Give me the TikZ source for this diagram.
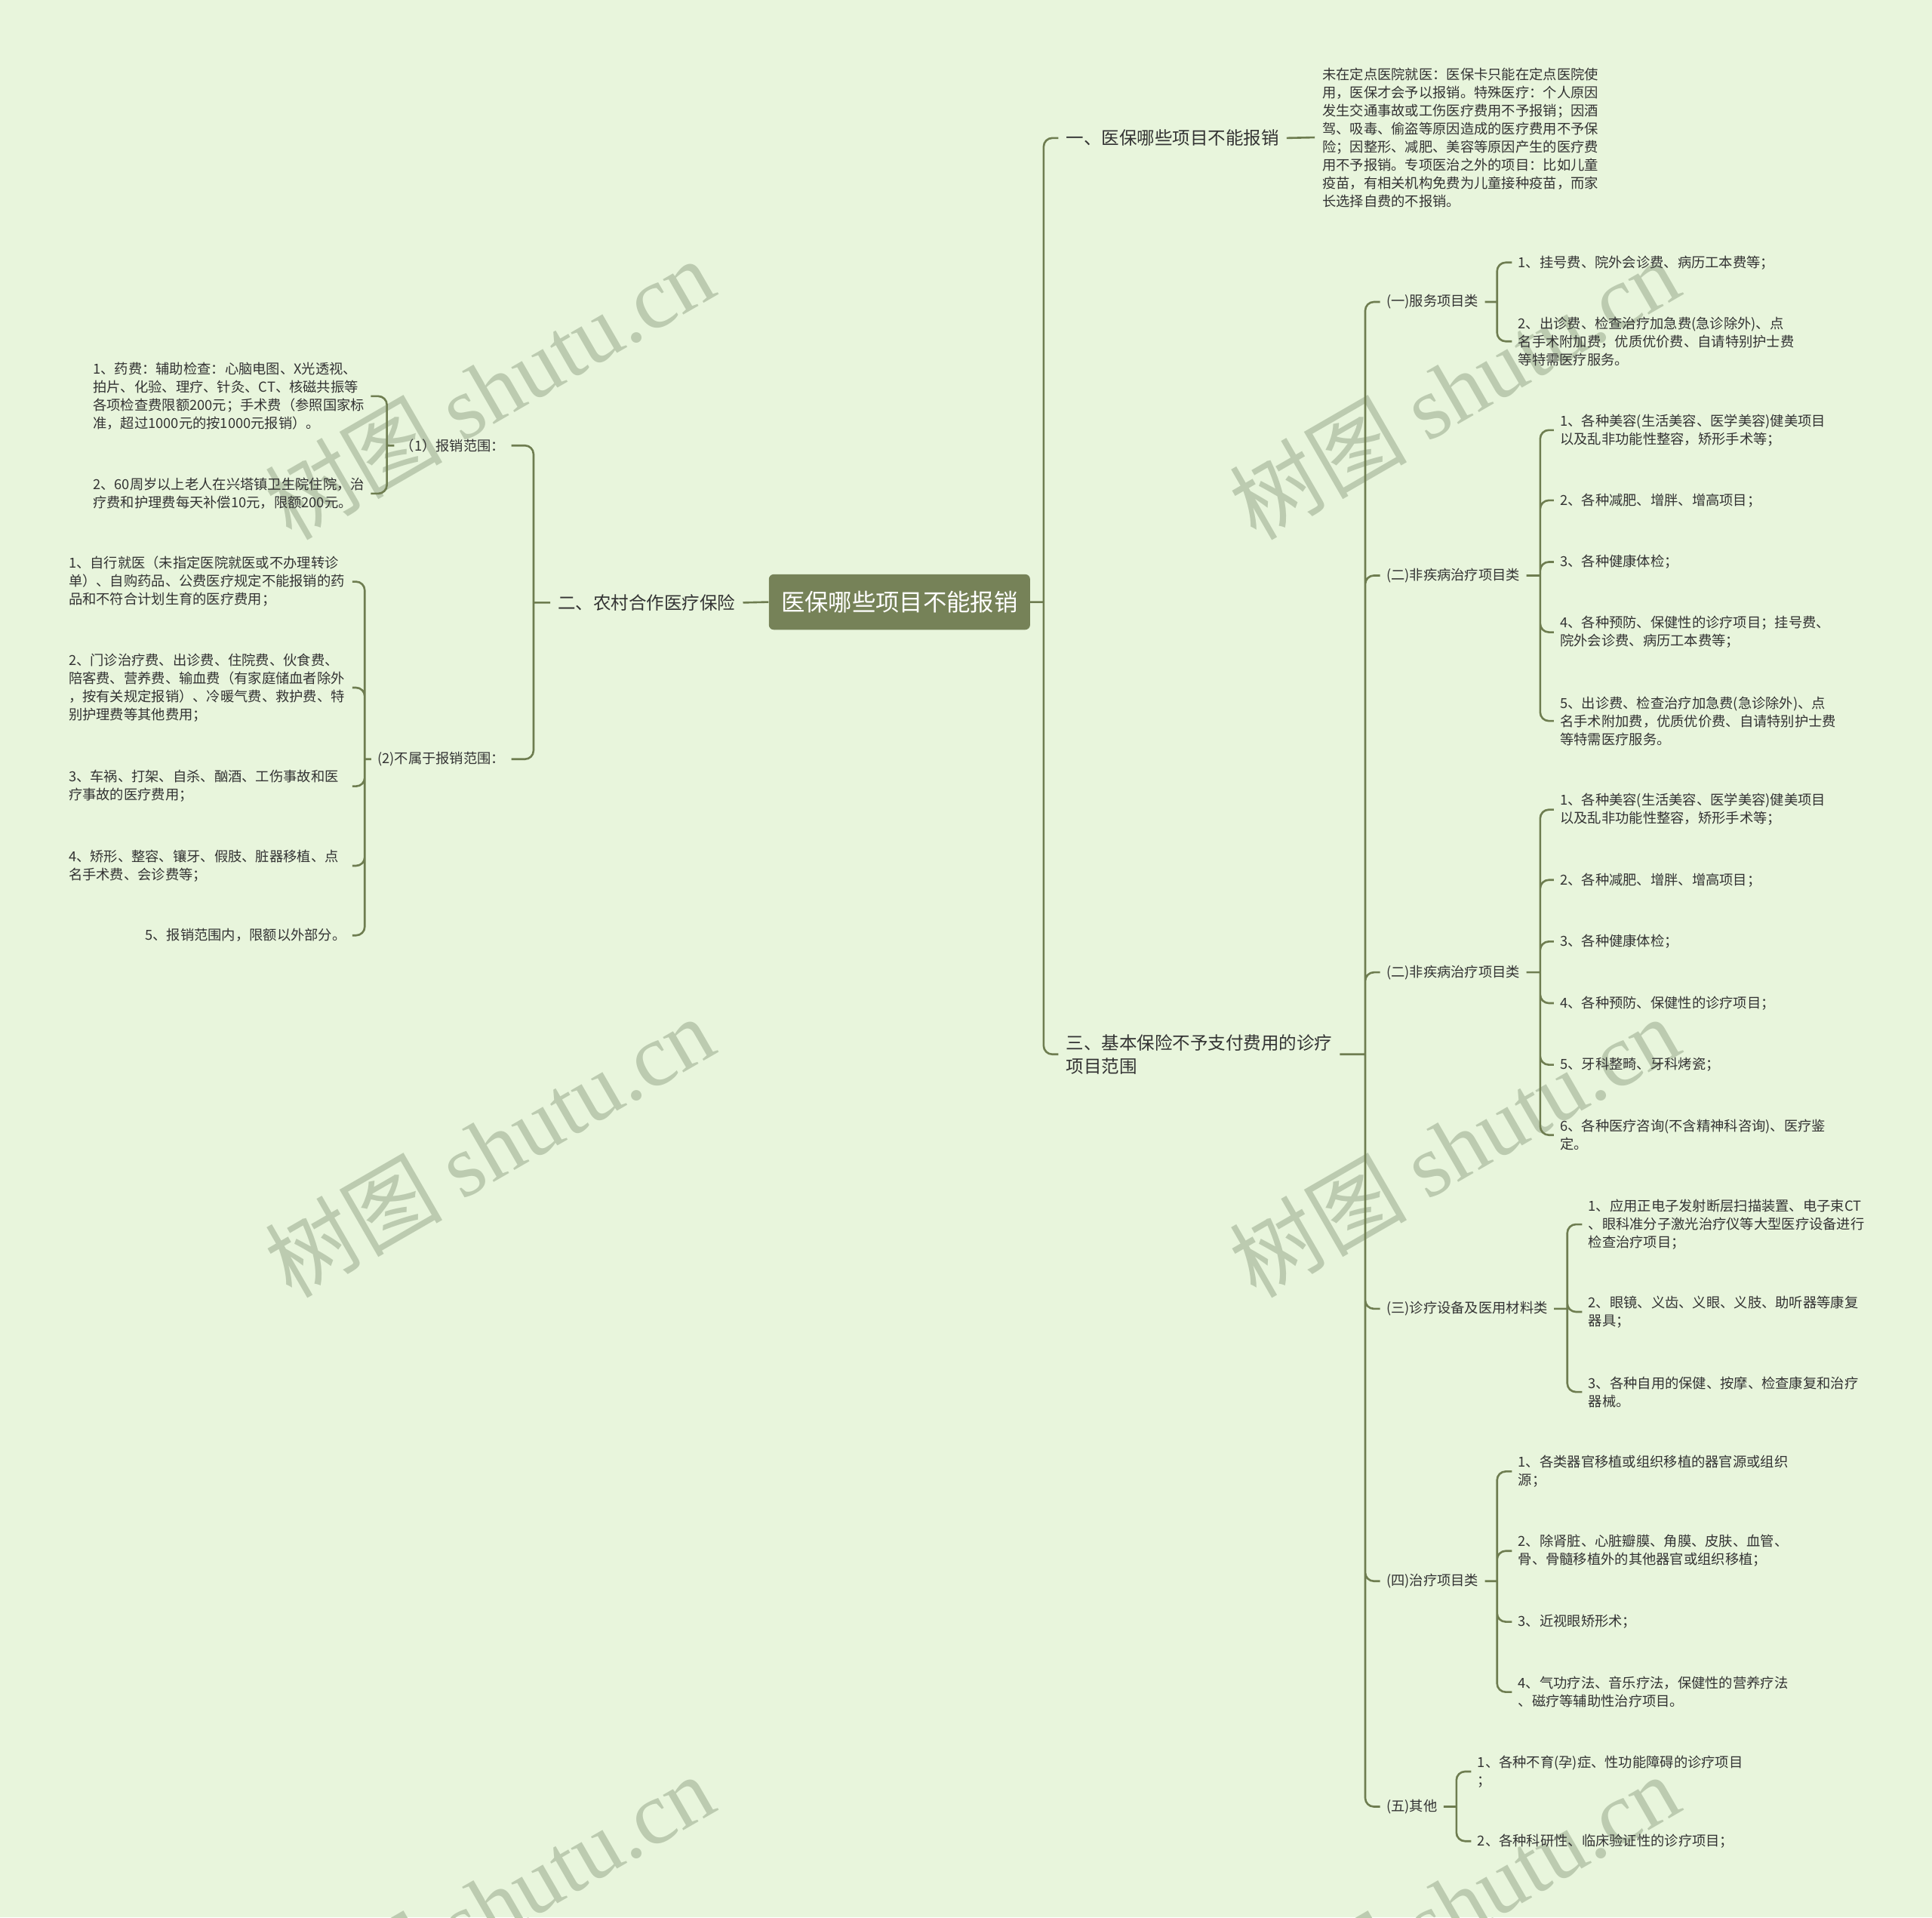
\documentclass[tikz,border=0pt]{standalone}
\usepackage{fontspec}
\setmainfont{Noto Sans CJK SC}
\newfontfamily\markserif{Liberation Serif}
\usepackage{tikz}
\usetikzlibrary{positioning}
\definecolor{mapbg}{HTML}{E8F5DC}
\definecolor{mapline}{HTML}{6E7D50}
\definecolor{maproot}{HTML}{768258}
\definecolor{mapink}{HTML}{333333}
\definecolor{mapmark}{HTML}{BCCBB0}
\newcommand\rootsize{\fontsize{19.2}{24}\selectfont}
\newcommand\branchsize{\fontsize{14.4}{19}\selectfont}
\newcommand\leafsize{\fontsize{11.2}{14.7}\selectfont}
\newcommand\marksize{\fontsize{72}{72}\selectfont}

\begin{document}
\begin{tikzpicture}[x=1pt,y=-1pt,
  root/.style={fill=maproot,text=white,rounded corners=4pt,minimum height=45pt,inner xsep=10pt,font=\rootsize},
  branch/.style={text=mapink,inner sep=6pt,align=left,font=\branchsize},
  leaf/.style={text=mapink,inner sep=5pt,align=left,font=\leafsize},
  wideleaf/.style={leaf,text width=225pt},
  link/.style={draw=mapline,line width=1.6pt,rounded corners=7pt},
  wmark/.style={text=mapmark,rotate=30,font=\marksize}
]
\useasboundingbox (0,0) rectangle (1568,1556);
\fill[mapbg] (0,0) rectangle (1568,1556);

% watermark
\node[wmark] (wm1) at (397,315) {树图 {\markserif shutu.cn}};
\node[wmark] (wm2) at (1180,315) {树图 {\markserif shutu.cn}};
\node[wmark] (wm3) at (397,930) {树图 {\markserif shutu.cn}};
\node[wmark] (wm4) at (1180,930) {树图 {\markserif shutu.cn}};
\node[wmark] (wm5) at (397,1545) {树图 {\markserif shutu.cn}};
\node[wmark] (wm6) at (1180,1545) {树图 {\markserif shutu.cn}};

% centre and first level
\node[root] (root) at (730,488.5) {医保哪些项目不能报销};
\node[branch,anchor=west] (b1) at (859,112) {一、医保哪些项目不能报销};
\node[branch,anchor=east] (b2) at (603,489) {二、农村合作医疗保险};
\node[branch,anchor=west] (b3) at (859,855.5) {三、基本保险不予支付费用的诊疗\\项目范围};
\node[leaf,anchor=west,inner sep=6pt] (d1) at (1067,111.5) {未在定点医院就医：医保卡只能在定点医院使\\用，医保才会予以报销。特殊医疗：个人原因\\发生交通事故或工伤医疗费用不予报销；因酒\\驾、吸毒、偷盗等原因造成的医疗费用不予保\\险；因整形、减肥、美容等原因产生的医疗费\\用不予报销。专项医治之外的项目：比如儿童\\疫苗，有相关机构免费为儿童接种疫苗，而家\\长选择自费的不报销。};

% left side
\node[leaf,anchor=east] (s21) at (415,361.5) {（1）报销范围：};
\node[leaf,anchor=east] (s22) at (415,616) {(2)不属于报销范围：};
\node[leaf,anchor=east] (l211) at (301,321.5) {1、药费：辅助检查：心脑电图、X光透视、\\拍片、化验、理疗、针灸、CT、核磁共振等\\各项检查费限额200元；手术费（参照国家标\\准，超过1000元的按1000元报销）。};
\node[leaf,anchor=east] (l212) at (301,400.5) {2、60周岁以上老人在兴塔镇卫生院住院，治\\疗费和护理费每天补偿10元，限额200元。};
\node[wideleaf,anchor=east] (l221) at (286,472) {1、自行就医（未指定医院就医或不办理转诊\\单）、自购药品、公费医疗规定不能报销的药\\品和不符合计划生育的医疗费用；};
\node[wideleaf,anchor=east] (l222) at (286,558) {2、门诊治疗费、出诊费、住院费、伙食费、\\陪客费、营养费、输血费（有家庭储血者除外\\，按有关规定报销）、冷暖气费、救护费、特\\别护理费等其他费用；};
\node[wideleaf,anchor=east] (l223) at (286,638) {3、车祸、打架、自杀、酗酒、工伤事故和医\\疗事故的医疗费用；};
\node[wideleaf,anchor=east] (l224) at (286,702.5) {4、矫形、整容、镶牙、假肢、脏器移植、点\\名手术费、会诊费等；};
\node[leaf,anchor=east] (l225) at (286,759) {5、报销范围内，限额以外部分。};

% right side, second level
\node[leaf,anchor=west] (s31) at (1120,245) {(一)服务项目类};
\node[leaf,anchor=west] (s32) at (1120,467) {(二)非疾病治疗项目类};
\node[leaf,anchor=west] (s33) at (1120,789) {(二)非疾病治疗项目类};
\node[leaf,anchor=west] (s34) at (1120,1062) {(三)诊疗设备及医用材料类};
\node[leaf,anchor=west] (s35) at (1120,1283) {(四)治疗项目类};
\node[leaf,anchor=west] (s36) at (1120,1466) {(五)其他};

% right side, leaves
\node[leaf,anchor=west] (l311) at (1227,213) {1、挂号费、院外会诊费、病历工本费等；};
\node[leaf,anchor=west] (l312) at (1227,277) {2、出诊费、检查治疗加急费(急诊除外)、点\\名手术附加费，优质优价费、自请特别护士费\\等特需医疗服务。};

\node[leaf,anchor=west] (l321) at (1261,349) {1、各种美容(生活美容、医学美容)健美项目\\以及乱非功能性整容，矫形手术等；};
\node[leaf,anchor=west] (l322) at (1261,406) {2、各种减肥、增胖、增高项目；};
\node[leaf,anchor=west] (l323) at (1261,456) {3、各种健康体检；};
\node[leaf,anchor=west] (l324) at (1261,513) {4、各种预防、保健性的诊疗项目；挂号费、\\院外会诊费、病历工本费等；};
\node[leaf,anchor=west] (l325) at (1261,585) {5、出诊费、检查治疗加急费(急诊除外)、点\\名手术附加费，优质优价费、自请特别护士费\\等特需医疗服务。};

\node[leaf,anchor=west] (l331) at (1261,657) {1、各种美容(生活美容、医学美容)健美项目\\以及乱非功能性整容，矫形手术等；};
\node[leaf,anchor=west] (l332) at (1261,714) {2、各种减肥、增胖、增高项目；};
\node[leaf,anchor=west] (l333) at (1261,764) {3、各种健康体检；};
\node[leaf,anchor=west] (l334) at (1261,814) {4、各种预防、保健性的诊疗项目；};
\node[leaf,anchor=west] (l335) at (1261,864) {5、牙科整畸、牙科烤瓷；};
\node[leaf,anchor=west] (l336) at (1261,921) {6、各种医疗咨询(不含精神科咨询)、医疗鉴\\定。};

\node[leaf,anchor=west] (l341) at (1284,993.5) {1、应用正电子发射断层扫描装置、电子束CT\\、眼科准分子激光治疗仪等大型医疗设备进行\\检查治疗项目；};
\node[leaf,anchor=west] (l342) at (1284,1064.5) {2、眼镜、义齿、义眼、义肢、助听器等康复\\器具；};
\node[leaf,anchor=west] (l343) at (1284,1129.5) {3、各种自用的保健、按摩、检查康复和治疗\\器械。};

\node[leaf,anchor=west] (l351) at (1227,1194) {1、各类器官移植或组织移植的器官源或组织\\源；};
\node[leaf,anchor=west] (l352) at (1227,1258.5) {2、除肾脏、心脏瓣膜、角膜、皮肤、血管、\\骨、骨髓移植外的其他器官或组织移植；};
\node[leaf,anchor=west] (l353) at (1227,1316) {3、近视眼矫形术；};
\node[leaf,anchor=west] (l354) at (1227,1373) {4、气功疗法、音乐疗法，保健性的营养疗法\\、磁疗等辅助性治疗项目。};

\node[leaf,anchor=west] (l361) at (1194,1437.5) {1、各种不育(孕)症、性功能障碍的诊疗项目\\；};
\node[leaf,anchor=west] (l362) at (1194,1494) {2、各种科研性、临床验证性的诊疗项目；};

% bracket points
\coordinate (kr) at (847,488.5);
\coordinate (k2) at (433,489);
\coordinate (k21) at (314,361.5);
\coordinate (k22) at (296,616);
\coordinate (k3) at (1108,855.5);
\coordinate (k31) at (1215,245);
\coordinate (k32) at (1250,467);
\coordinate (k33) at (1250,789);
\coordinate (k34) at (1272,1062);
\coordinate (k35) at (1215,1283);
\coordinate (k36) at (1182,1466);

% connectors
\draw[link] (root.east) -- (kr) (kr) |- (b1.west) (kr) |- (b3.west);
\draw[link] (root.west) -- (b2.east);
\draw[link] (b1.east) -- (d1.west);
\draw[link] (b2.west) -- (k2) (k2) |- (s21.east) (k2) |- (s22.east);
\draw[link] (s21.west) -- (k21) (k21) |- (l211.east) (k21) |- (l212.east);
\draw[link] (s22.west) -- (k22) (k22) |- (l221.east) (k22) |- (l222.east) (k22) |- (l223.east)
  (k22) |- (l224.east) (k22) |- (l225.east);
\draw[link] (b3.east) -- (k3) (k3) |- (s31.west) (k3) |- (s32.west) (k3) |- (s33.west)
  (k3) |- (s34.west) (k3) |- (s35.west) (k3) |- (s36.west);
\draw[link] (s31.east) -- (k31) (k31) |- (l311.west) (k31) |- (l312.west);
\draw[link] (s32.east) -- (k32) (k32) |- (l321.west) (k32) |- (l322.west) (k32) |- (l323.west)
  (k32) |- (l324.west) (k32) |- (l325.west);
\draw[link] (s33.east) -- (k33) (k33) |- (l331.west) (k33) |- (l332.west) (k33) |- (l333.west)
  (k33) |- (l334.west) (k33) |- (l335.west) (k33) |- (l336.west);
\draw[link] (s34.east) -- (k34) (k34) |- (l341.west) (k34) |- (l342.west) (k34) |- (l343.west);
\draw[link] (s35.east) -- (k35) (k35) |- (l351.west) (k35) |- (l352.west) (k35) |- (l353.west)
  (k35) |- (l354.west);
\draw[link] (s36.east) -- (k36) (k36) |- (l361.west) (k36) |- (l362.west);
\end{tikzpicture}
\end{document}
